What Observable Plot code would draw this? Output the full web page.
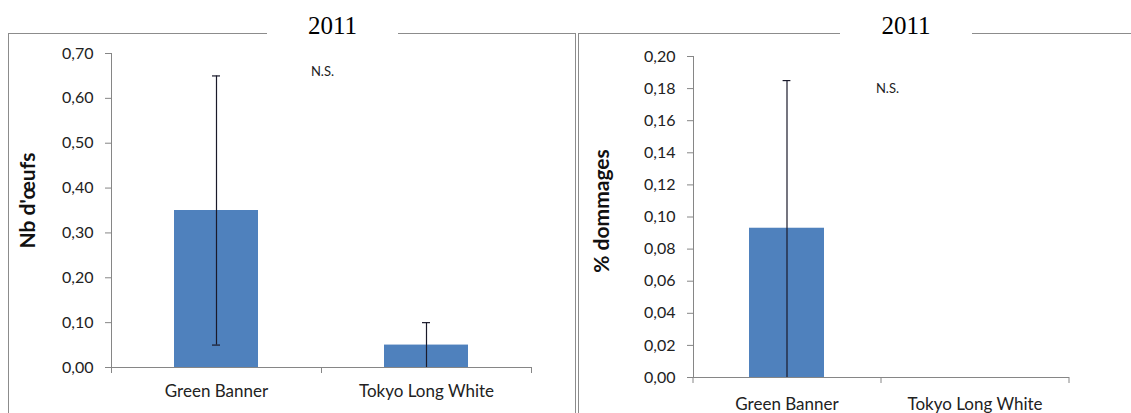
<!DOCTYPE html>
<html>
<head>
<meta charset="utf-8">
<script src="https://cdn.jsdelivr.net/npm/d3@7"></script>
<script src="https://cdn.jsdelivr.net/npm/@observablehq/plot@0.6"></script>
<style>
  html, body { margin: 0; padding: 0; background: white; }
  #wrap { position: relative; width: 1131px; height: 413px; overflow: hidden; background: white; }
  .panel { position: absolute; top: 0; }
  .line { position: absolute; background: #8c8c8c; z-index: 5; }
  .title { position: absolute; top: 12px; font-family: "Liberation Serif", "Times New Roman", serif; font-size: 25px; color: #000; background: white; text-align: center; z-index: 6; line-height: 28px; }
  svg g[aria-label="y-axis tick label"] { fill: #222; }
  svg g[aria-label="x-axis tick label"] { fill: #222; font-size: 17px; }
</style>
</head>
<body>
<div id="wrap">
  <div class="panel" id="left" style="left:0px"></div>
  <div class="panel" id="right" style="left:578px"></div>
  <div class="line" style="left:8px; top:33px; width:568px; height:1px"></div>
  <div class="line" style="left:8px; top:33px; width:1px; height:380px"></div>
  <div class="line" style="left:575px; top:33px; width:1px; height:380px"></div>
  <div class="line" style="left:578px; top:33px; width:553px; height:1px"></div>
  <div class="line" style="left:578px; top:33px; width:1px; height:380px"></div>
  <div class="title" id="t1" style="left:267px; width:131px"></div>
  <div class="title" id="t2" style="left:840px; width:132px"></div>
</div>
<script>
// ---- data ----
const categories = ["Green Banner", "Tokyo Long White"];
const titles = ["2011", "2011"];
const eggMean = [0.35, 0.05];
const eggLow = [0.05, 0.00];
const eggHigh = [0.65, 0.10];
const dmgMean = [0.093, 0.0];
const dmgLow = [0.0, 0.0];
const dmgHigh = [0.185, 0.0];
const eggTicks = [0, 0.1, 0.2, 0.3, 0.4, 0.5, 0.6, 0.7];
const dmgTicks = [0, 0.02, 0.04, 0.06, 0.08, 0.10, 0.12, 0.14, 0.16, 0.18, 0.20];
const eggLabel = "Nb d'œufs";
const dmgLabel = "% dommages";
const nsText = "N.S.";

document.getElementById("t1").textContent = titles[0];
document.getElementById("t2").textContent = titles[1];

const fmt = d => d.toFixed(2).replace(".", ",");

function chart(o) {
  const rows = categories.map((c, i) => ({cat: c, mean: o.mean[i], low: o.low[i], high: o.high[i]}));
  const errs = rows.filter(d => d.high > d.low);
  const lowCaps = errs.filter(d => d.low > 0);
  const step = (o.width - o.marginLeft - o.marginRight) / categories.length;
  const bw = step * 0.4;
  const capInset = (bw - 8) / 2;
  return Plot.plot({
    width: o.width,
    height: 413,
    marginLeft: o.marginLeft,
    marginRight: o.marginRight,
    marginTop: o.marginTop,
    marginBottom: o.marginBottom,
    style: {fontFamily: "Lato, 'Open Sans', sans-serif", fontSize: "16px", color: "#868686", background: "transparent"},
    x: {domain: categories, paddingInner: 0.6, paddingOuter: 0.3, tickSize: 0, tickPadding: o.xPad, label: null},
    y: {domain: o.domain, ticks: o.ticks, tickFormat: fmt, tickSize: 6, tickPadding: 12, line: true, label: null},
    marks: [
      Plot.barY(rows, {x: "cat", y: "mean", fill: "#4F81BD"}),
      Plot.ruleY([0], {stroke: "#868686"}),
      Plot.ruleX(categories, {x: d => d, y1: 0, y2: 0, dx: step / 2, insetBottom: -6, stroke: "#868686"}),
      Plot.ruleX([categories[0]], {x: d => d, y1: 0, y2: 0, dx: -step / 2, insetBottom: -6, stroke: "#868686"}),
      Plot.ruleX(errs, {x: "cat", y1: "low", y2: "high", stroke: "#1a1a2a", strokeWidth: 1.2}),
      Plot.tickY(errs, {x: "cat", y: "high", insetLeft: capInset, insetRight: capInset, stroke: "#1a1a2a", strokeWidth: 1.2}),
      Plot.tickY(lowCaps, {x: "cat", y: "low", insetLeft: capInset, insetRight: capInset, stroke: "#1a1a2a", strokeWidth: 1.2}),
      Plot.text([o.label], {frameAnchor: "left", textAnchor: "middle", dx: o.labelDx, dy: o.labelDy, rotate: -90, fontWeight: "bold", fontSize: 21, fill: "#111"}),
      Plot.text([nsText], {frameAnchor: "top", dx: o.nsDx, dy: o.nsDy, fontSize: 13, fill: "#222"})
    ]
  });
}

document.getElementById("left").appendChild(chart({
  width: 578, marginLeft: 111, marginRight: 47, marginTop: 53, marginBottom: 46,
  domain: [0, 0.7], ticks: eggTicks, mean: eggMean, low: eggLow, high: eggHigh,
  label: eggLabel, labelDx: -83, labelDy: -10, nsDx: 1, nsDy: 13, xPad: 17
}));
document.getElementById("right").appendChild(chart({
  width: 553, marginLeft: 115, marginRight: 62, marginTop: 56, marginBottom: 36,
  domain: [0, 0.2], ticks: dmgTicks, mean: dmgMean, low: dmgLow, high: dmgHigh,
  label: dmgLabel, labelDx: -91, labelDy: -6, nsDx: 6, nsDy: 27, xPad: 20
}));
</script>
</body>
</html>
